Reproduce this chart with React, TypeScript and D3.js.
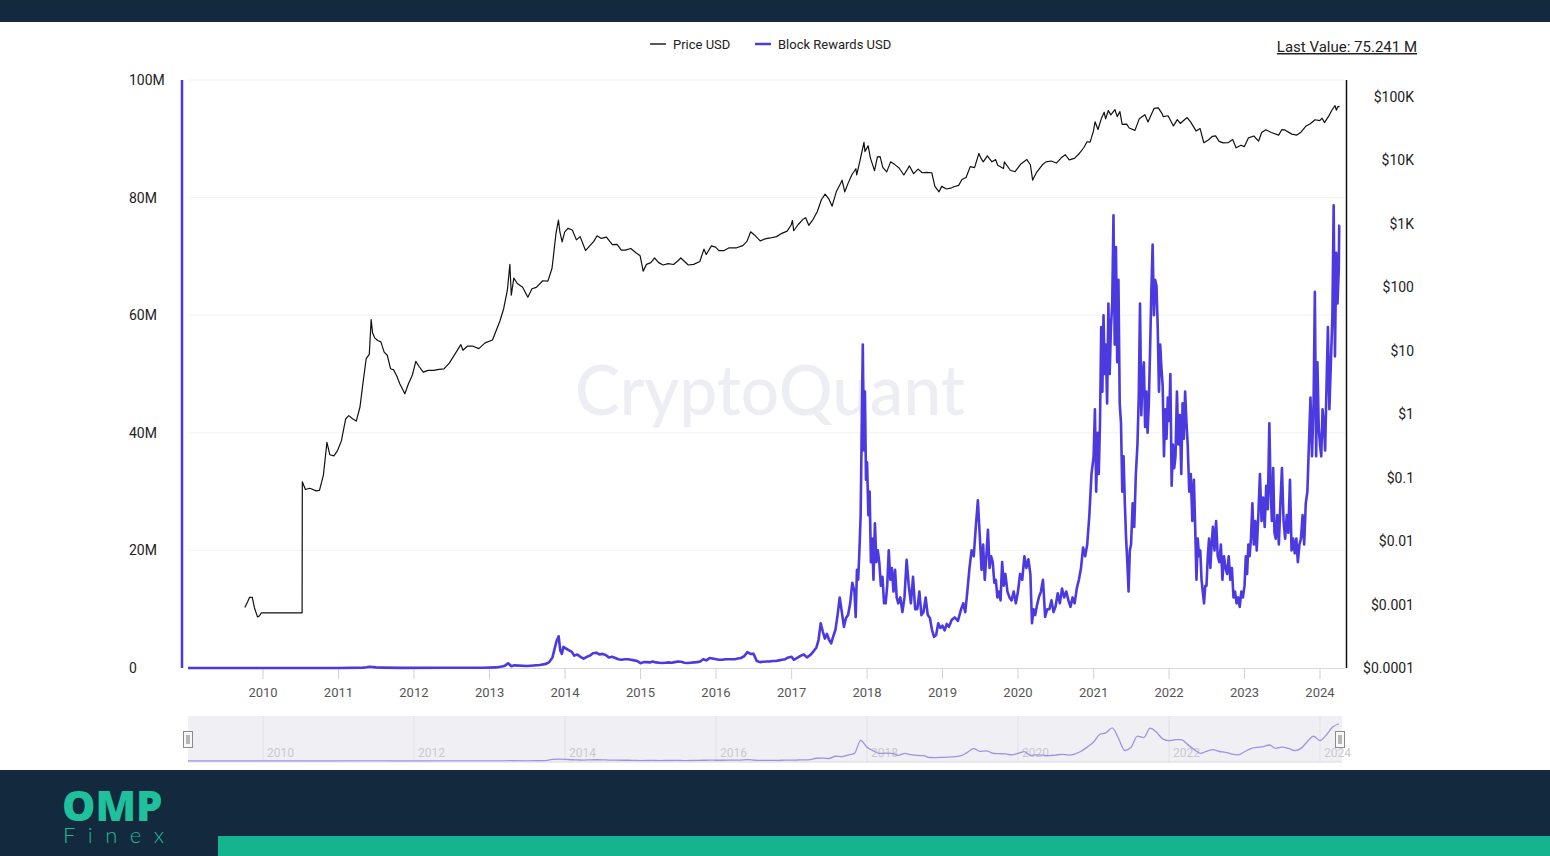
import * as d3 from "d3";

// Price USD (log scale, right axis)
const priceSeries: [string, number][] = [
  ["2009-10-05", 0.0009], ["2009-10-18", 0.0011], ["2009-10-28", 0.0013], ["2009-11-10", 0.0013],
  ["2009-11-20", 0.0009], ["2009-12-05", 0.00064], ["2009-12-14", 0.00066], ["2009-12-24", 0.00074],
  ["2010-07-09", 0.00074], ["2010-07-10", 0.086], ["2010-07-25", 0.065], ["2010-08-15", 0.068],
  ["2010-09-15", 0.062], ["2010-10-01", 0.063], ["2010-10-20", 0.11], ["2010-11-06", 0.36],
  ["2010-11-20", 0.23], ["2010-12-10", 0.22], ["2010-12-28", 0.27], ["2011-01-15", 0.38],
  ["2011-02-05", 0.85], ["2011-02-20", 0.95], ["2011-03-10", 0.85], ["2011-03-28", 0.78],
  ["2011-04-15", 1.3], ["2011-04-30", 3.2], ["2011-05-15", 7.5], ["2011-05-30", 8.8],
  ["2011-06-08", 31], ["2011-06-15", 19], ["2011-06-25", 16], ["2011-07-10", 14.5],
  ["2011-07-25", 13.8], ["2011-08-10", 9.5], ["2011-08-25", 8.5], ["2011-09-10", 5.2],
  ["2011-09-25", 5.0], ["2011-10-10", 4.0], ["2011-10-25", 3.0], ["2011-11-18", 2.1],
  ["2011-12-05", 3.0], ["2011-12-25", 4.2], ["2012-01-10", 6.8], ["2012-01-25", 5.7],
  ["2012-02-15", 4.6], ["2012-03-10", 4.9], ["2012-04-05", 4.9], ["2012-05-01", 5.1],
  ["2012-05-25", 5.2], ["2012-06-20", 6.4], ["2012-07-15", 8.6], ["2012-08-15", 12.5],
  ["2012-08-25", 10.2], ["2012-09-15", 11.8], ["2012-10-10", 11.9], ["2012-11-10", 10.8],
  ["2012-12-10", 13.3], ["2013-01-15", 14.8], ["2013-02-01", 20.5], ["2013-02-20", 29.5],
  ["2013-03-10", 46], ["2013-03-28", 90], ["2013-04-09", 230], ["2013-04-16", 75],
  ["2013-04-28", 140], ["2013-05-15", 115], ["2013-06-10", 100], ["2013-07-05", 70],
  ["2013-07-25", 95], ["2013-08-15", 100], ["2013-09-15", 127], ["2013-10-10", 125],
  ["2013-10-30", 200], ["2013-11-18", 700], ["2013-11-30", 1150], ["2013-12-07", 750],
  ["2013-12-18", 520], ["2013-12-30", 740], ["2014-01-15", 850], ["2014-02-05", 800],
  ["2014-02-25", 560], ["2014-03-15", 630], ["2014-04-10", 380], ["2014-04-30", 450],
  ["2014-05-20", 530], ["2014-06-05", 650], ["2014-06-25", 590], ["2014-07-20", 620],
  ["2014-08-18", 470], ["2014-09-10", 475], ["2014-09-30", 385], ["2014-10-20", 385],
  ["2014-11-15", 410], ["2014-12-10", 350], ["2014-12-30", 315], ["2015-01-14", 180],
  ["2015-01-30", 230], ["2015-02-20", 245], ["2015-03-10", 290], ["2015-03-30", 245],
  ["2015-04-20", 225], ["2015-05-15", 237], ["2015-06-10", 229], ["2015-07-05", 270],
  ["2015-07-15", 290], ["2015-08-20", 225], ["2015-09-15", 230], ["2015-10-15", 255],
  ["2015-11-04", 400], ["2015-11-15", 330], ["2015-12-10", 450], ["2015-12-30", 430],
  ["2016-01-15", 380], ["2016-02-10", 380], ["2016-03-05", 420], ["2016-04-10", 420],
  ["2016-05-10", 455], ["2016-05-30", 530], ["2016-06-17", 750], ["2016-07-05", 670],
  ["2016-08-02", 540], ["2016-08-25", 580], ["2016-09-20", 600], ["2016-10-20", 630],
  ["2016-11-15", 710], ["2016-12-10", 770], ["2016-12-30", 960], ["2017-01-05", 1130],
  ["2017-01-11", 780], ["2017-02-01", 970], ["2017-02-25", 1180], ["2017-03-10", 1250],
  ["2017-03-25", 950], ["2017-04-15", 1180], ["2017-05-05", 1550], ["2017-05-25", 2400],
  ["2017-06-12", 2950], ["2017-07-01", 2450], ["2017-07-16", 1900], ["2017-08-05", 3200],
  ["2017-08-30", 4600], ["2017-09-02", 4900], ["2017-09-15", 3200], ["2017-10-01", 4350],
  ["2017-10-20", 6000], ["2017-11-08", 7400], ["2017-11-12", 5900], ["2017-11-28", 10000],
  ["2017-12-17", 19300], ["2017-12-22", 13800], ["2018-01-06", 17100], ["2018-01-17", 11000],
  ["2018-02-06", 6900], ["2018-02-20", 11400], ["2018-03-05", 11500], ["2018-03-18", 7800],
  ["2018-04-06", 6600], ["2018-04-25", 9500], ["2018-05-15", 8600], ["2018-06-05", 7600],
  ["2018-06-28", 5900], ["2018-07-25", 8200], ["2018-08-14", 6200], ["2018-09-05", 7300],
  ["2018-09-25", 6400], ["2018-10-15", 6500], ["2018-11-10", 6400], ["2018-11-25", 3900],
  ["2018-12-15", 3200], ["2018-12-28", 3900], ["2019-01-20", 3550], ["2019-02-10", 3650],
  ["2019-02-25", 3850], ["2019-03-20", 4050], ["2019-04-05", 5000], ["2019-04-25", 5400],
  ["2019-05-15", 8000], ["2019-06-05", 7700], ["2019-06-26", 12900], ["2019-07-05", 11000],
  ["2019-07-17", 9500], ["2019-08-06", 11800], ["2019-08-28", 9500], ["2019-09-15", 10300],
  ["2019-09-25", 8400], ["2019-10-23", 7450], ["2019-10-27", 9500], ["2019-11-25", 7000],
  ["2019-12-18", 6640], ["2020-01-15", 8800], ["2020-02-13", 10350], ["2020-03-01", 8550],
  ["2020-03-12", 4900], ["2020-03-30", 6400], ["2020-04-30", 8650], ["2020-05-15", 9500],
  ["2020-06-10", 9800], ["2020-07-05", 9100], ["2020-07-28", 11000], ["2020-08-17", 12300],
  ["2020-09-05", 10200], ["2020-09-30", 10800], ["2020-10-25", 13000], ["2020-11-15", 16000],
  ["2020-11-30", 19700], ["2020-12-15", 19400], ["2020-12-31", 29000], ["2021-01-08", 40700],
  ["2021-01-22", 30800], ["2021-02-08", 46400], ["2021-02-21", 57500], ["2021-02-28", 45200],
  ["2021-03-13", 61200], ["2021-03-25", 52300], ["2021-04-14", 63500], ["2021-04-25", 49000],
  ["2021-05-08", 58800], ["2021-05-19", 37000], ["2021-06-10", 37300], ["2021-06-22", 32500],
  ["2021-07-20", 29800], ["2021-08-10", 45600], ["2021-09-06", 52700], ["2021-09-21", 40500],
  ["2021-10-20", 66000], ["2021-11-10", 67500], ["2021-11-28", 54700], ["2021-12-04", 49000],
  ["2021-12-27", 50600], ["2022-01-22", 35000], ["2022-02-10", 44000], ["2022-02-24", 38300],
  ["2022-03-29", 47400], ["2022-04-15", 40500], ["2022-05-12", 29000], ["2022-05-31", 31800],
  ["2022-06-18", 19000], ["2022-07-10", 21000], ["2022-07-30", 24000], ["2022-08-14", 24400],
  ["2022-08-31", 20000], ["2022-09-20", 18900], ["2022-10-15", 19100], ["2022-11-05", 21300],
  ["2022-11-21", 15800], ["2022-12-15", 17400], ["2022-12-31", 16500], ["2023-01-20", 22700],
  ["2023-02-15", 24300], ["2023-03-10", 20200], ["2023-03-25", 27500], ["2023-04-14", 30400],
  ["2023-05-10", 27600], ["2023-06-15", 25100], ["2023-06-30", 30500], ["2023-07-15", 30300],
  ["2023-08-18", 26000], ["2023-09-11", 25100], ["2023-10-01", 27900], ["2023-10-24", 34500],
  ["2023-11-15", 37800], ["2023-12-08", 43800], ["2023-12-31", 42300], ["2024-01-11", 46300],
  ["2024-01-23", 39500], ["2024-02-15", 51900], ["2024-02-28", 62400], ["2024-03-14", 73100],
  ["2024-03-20", 62000], ["2024-03-28", 71000], ["2024-04-05", 70500],
];

// Block Rewards USD (millions, left axis): readings spread across each month
const rewardSeries: [string, number[]][] = [
  ["2009-01", [0, 0]], ["2010-07", [0.001]], ["2011-01", [0.005]], ["2011-05", [0.06, 0.12]],
  ["2011-06", [0.22, 0.1]], ["2011-08", [0.07]], ["2011-11", [0.02]], ["2012-06", [0.05]],
  ["2012-12", [0.05]], ["2013-02", [0.1]], ["2013-03", [0.25, 0.4]], ["2013-04", [0.8, 0.3]],
  ["2013-05", [0.45]], ["2013-07", [0.35]], ["2013-09", [0.5]], ["2013-10", [0.7, 1.0]],
  ["2013-11", [1.8, 3.2, 4.6]], ["2013-12", [5.4, 3.0, 2.4, 3.6]],
  ["2014-01", [3.4, 3.1]], ["2014-02", [2.8, 2.1]], ["2014-03", [2.3, 1.9]], ["2014-04", [1.6, 1.9]],
  ["2014-05", [2.1, 2.5]], ["2014-06", [2.6, 2.3]], ["2014-07", [2.4, 2.2]], ["2014-08", [1.8, 1.9]],
  ["2014-09", [1.7, 1.5]], ["2014-10", [1.4, 1.5]], ["2014-11", [1.5, 1.4]], ["2014-12", [1.3, 1.2]],
  ["2015-01", [0.8, 1.0]], ["2015-02", [1.0, 0.95]], ["2015-03", [1.1, 0.95]], ["2015-04", [0.9, 0.85]],
  ["2015-05", [0.9, 0.95]], ["2015-06", [0.9, 1.0]], ["2015-07", [1.1, 1.05]], ["2015-08", [0.9, 0.85]],
  ["2015-09", [0.9, 0.95]], ["2015-10", [1.0, 1.1]], ["2015-11", [1.5, 1.3]], ["2015-12", [1.7, 1.6]],
  ["2016-01", [1.5, 1.4]], ["2016-02", [1.4, 1.5]], ["2016-03", [1.5, 1.5]], ["2016-04", [1.5, 1.6]],
  ["2016-05", [1.7, 2.0]], ["2016-06", [2.7, 2.4]], ["2016-07", [2.4, 1.2]], ["2016-08", [1.0, 1.05]],
  ["2016-09", [1.1, 1.1]], ["2016-10", [1.2, 1.2]], ["2016-11", [1.3, 1.4]], ["2016-12", [1.5, 1.8]],
  ["2017-01", [1.9, 1.4, 1.6]], ["2017-02", [1.8, 2.1]], ["2017-03", [2.3, 1.8]], ["2017-04", [2.2, 2.8]],
  ["2017-05", [3.5, 4.8, 7.6]], ["2017-06", [6.2, 5.0, 5.8]], ["2017-07", [4.8, 4.2, 5.4]],
  ["2017-08", [6.5, 9.0, 12.0]], ["2017-09", [9.5, 7.0, 8.5]], ["2017-10", [9.0, 11.0, 14.5]],
  ["2017-11", [13.0, 8.7, 16.7, 15.0, 20.0]], ["2017-12", [26, 41, 55, 37, 47, 32]],
  ["2018-01", [35, 26, 30, 18, 22]], ["2018-02", [15, 24.6, 18, 20]], ["2018-03", [18, 14, 15.5, 11]],
  ["2018-04", [11, 14, 20, 15]], ["2018-05", [17, 13, 16.7, 12]], ["2018-06", [11, 12, 9.5]],
  ["2018-07", [12, 18.4, 14]], ["2018-08", [11, 15.5, 10]], ["2018-09", [10, 13, 9]],
  ["2018-10", [9.5, 12, 9]], ["2018-11", [8.5, 6.5, 5.3]], ["2018-12", [5.6, 7.6, 6.8]],
  ["2019-01", [7.2, 6.4, 7.5]], ["2019-02", [7.0, 8.2]], ["2019-03", [8.6, 8.0]],
  ["2019-04", [10.0, 11.0, 9.5]], ["2019-05", [13, 17, 20]], ["2019-06", [19, 24, 28.5]],
  ["2019-07", [22, 16.7, 21, 15]], ["2019-08", [19, 23.5, 17, 19]], ["2019-09", [18, 14.5, 15, 12]],
  ["2019-10", [13, 11.5, 18, 14]], ["2019-11", [16, 13, 12]], ["2019-12", [11.5, 13, 11]],
  ["2020-01", [13, 16, 15]], ["2020-02", [19, 17, 18.5]], ["2020-03", [16, 7.6, 10, 9]],
  ["2020-04", [10.5, 12, 13]], ["2020-05", [15, 8.7, 10]], ["2020-06", [10, 11.5, 9.5]],
  ["2020-07", [10.5, 12.7, 11]], ["2020-08", [13.5, 12, 13]], ["2020-09", [11.5, 10.4, 12]],
  ["2020-10", [11, 13.5, 15]], ["2020-11", [17, 20.5, 19]], ["2020-12", [21, 26, 33]],
  ["2021-01", [36, 44, 30, 40, 33]], ["2021-02", [42, 58, 47, 60, 50]], ["2021-03", [55, 45, 62, 50, 58]],
  ["2021-04", [62, 77, 55, 71.6, 52]], ["2021-05", [66, 45, 41.6, 30, 36]], ["2021-06", [28, 22, 18, 13, 20]],
  ["2021-07", [21, 28, 24, 33]], ["2021-08", [38, 46, 62, 43, 50]], ["2021-09", [52, 41, 47, 40, 45]],
  ["2021-10", [54, 64, 72, 60, 66]], ["2021-11", [65, 58, 47, 55, 51]], ["2021-12", [48, 36, 44, 39, 46]],
  ["2022-01", [42, 50, 31, 38, 34]], ["2022-02", [36, 47, 38, 43]], ["2022-03", [33, 45, 39, 47, 42]],
  ["2022-04", [38, 30, 33, 25]], ["2022-05", [32, 24, 15, 22, 19]], ["2022-06", [20, 15, 13, 11, 14]],
  ["2022-07", [14, 19, 22, 17, 21]], ["2022-08", [24, 20, 25, 19]], ["2022-09", [18, 21, 15, 19]],
  ["2022-10", [17, 16, 19, 15]], ["2022-11", [17, 12, 13, 11]], ["2022-12", [12, 10.4, 13, 12]],
  ["2023-01", [14, 19, 16, 21, 19]], ["2023-02", [22, 28, 21, 25]], ["2023-03", [20, 26, 33, 25]],
  ["2023-04", [29, 24, 31, 27]], ["2023-05", [41.6, 30, 25, 34, 23]], ["2023-06", [22, 26, 21, 28]],
  ["2023-07", [34, 25, 22, 26]], ["2023-08", [23, 32, 20, 22]], ["2023-09", [19.5, 22, 18, 21]],
  ["2023-10", [22, 26, 21, 28]], ["2023-11", [30, 38, 46, 36]], ["2023-12", [45, 64, 36, 52, 41]],
  ["2024-01", [38, 36, 44, 41.6, 37]], ["2024-02", [47, 58, 44, 52]], ["2024-03", [60, 78.7, 53, 70.6, 62]],
  ["2024-04", [68, 75.241]],
];
const rewardEnd = "2024-04-05";

const leftTicks = [0, 20, 40, 60, 80, 100];
const rightTicks = [1e-4, 1e-3, 1e-2, 1e-1, 1, 10, 100, 1e3, 1e4, 1e5];
const rightLabels = ["$0.0001", "$0.001", "$0.01", "$0.1", "$1", "$10", "$100", "$1K", "$10K", "$100K"];
const yearTicks = [2010, 2011, 2012, 2013, 2014, 2015, 2016, 2017, 2018, 2019, 2020, 2021, 2022, 2023, 2024];
const navYears = [2010, 2012, 2014, 2016, 2018, 2020, 2022, 2024];

const PURPLE = "#4b3ae0";
const NAVY = "#12293e";
const FONT = "Roboto, 'Open Sans', sans-serif";

const parse = d3.timeParse("%Y-%m-%d");
const parseMonth = d3.timeParse("%Y-%m");

export default function App() {
  const W = 1550;
  const H = 856;
  const plot = { left: 188, right: 1345, top: 80, bottom: 668 };

  const x = d3
    .scaleTime()
    .domain([new Date(2009, 0, 3), new Date(2024, 4, 1)])
    .range([plot.left, plot.right]);
  const yLeft = d3.scaleLinear().domain([0, 100]).range([plot.bottom, plot.top]);
  const yRight = d3.scaleLog().domain([1e-4, 1e5]).range([plot.bottom, 97]);
  // extend the log scale up to the top of the plot
  const topPrice = yRight.invert(plot.top);
  yRight.domain([1e-4, topPrice]).range([plot.bottom, plot.top]);

  const prices = priceSeries.map(([d, v]) => ({ date: parse(d)!, value: v }));

  // each month's readings are laid out evenly from its start to the next entry
  const rewards: { date: Date; value: number }[] = [];
  const navPts: { date: Date; value: number }[] = [];
  rewardSeries.forEach(([m, vals], i) => {
    const start = parseMonth(m)!;
    const end = i < rewardSeries.length - 1 ? parseMonth(rewardSeries[i + 1][0])! : parse(rewardEnd)!;
    const span = end.getTime() - start.getTime();
    vals.forEach((v, j) => {
      rewards.push({ date: new Date(start.getTime() + (j / vals.length) * span), value: v });
    });
    navPts.push({ date: start, value: d3.mean(vals)! });
  });
  rewards.push({ date: parse(rewardEnd)!, value: rewardSeries[rewardSeries.length - 1][1].slice(-1)[0] });

  const priceLine = d3
    .line<{ date: Date; value: number }>()
    .x((d) => x(d.date))
    .y((d) => yRight(d.value));
  const rewardLine = d3
    .line<{ date: Date; value: number }>()
    .x((d) => x(d.date))
    .y((d) => yLeft(d.value));

  const nav = { top: 716, bottom: 762, left: 188, right: 1342 };
  const navY = d3
    .scaleLinear()
    .domain([0, d3.max(navPts, (d) => d.value)! * 1.02])
    .range([nav.bottom - 1, 723]);
  const navLine = d3
    .line<{ date: Date; value: number }>()
    .x((d) => x(d.date))
    .y((d) => navY(d.value))
    .curve(d3.curveMonotoneX);

  const lastValue = rewardSeries[rewardSeries.length - 1][1].slice(-1)[0];

  return (
    <svg
      width={W}
      height={H}
      viewBox={`0 0 ${W} ${H}`}
      style={{ position: "absolute", left: 0, top: 0, background: "#fff", fontFamily: FONT }}
    >
      <defs>
        <clipPath id="plot-clip">
          <rect x={plot.left} y={plot.top - 2} width={plot.right - plot.left} height={plot.bottom - plot.top + 4} />
        </clipPath>
        <clipPath id="nav-clip">
          <rect x={nav.left} y={nav.top} width={nav.right - nav.left} height={nav.bottom - nav.top} />
        </clipPath>
      </defs>

      {/* top band */}
      <rect x={0} y={0} width={W} height={22} fill={NAVY} />

      {/* legend */}
      <g fontSize={13} fill="#222">
        <line x1={650} x2={666} y1={44} y2={44} stroke="#222" strokeWidth={1.5} />
        <text x={673} y={48.5}>Price USD</text>
        <line x1={755} x2={771} y1={44} y2={44} stroke={PURPLE} strokeWidth={2.5} />
        <text x={778} y={48.5}>Block Rewards USD</text>
      </g>
      <text x={1417} y={52} fontSize={15} fill="#222" textAnchor="end" style={{ textDecoration: "underline" }}>
        {`Last Value: ${lastValue.toFixed(3)} M`}
      </text>

      {/* gridlines */}
      {leftTicks.slice(1).map((t) => (
        <line key={t} x1={plot.left} x2={plot.right} y1={yLeft(t)} y2={yLeft(t)} stroke="#f2f2f4" strokeWidth={1} />
      ))}

      {/* watermark */}
      <text
        x={770}
        y={415}
        textAnchor="middle"
        fontSize={70}
        fontWeight={500}
        fill="#ededf4"
        textLength={390}
        lengthAdjust="spacingAndGlyphs"
        style={{ fontFamily: "Lato, 'Open Sans', sans-serif" }}
      >
        CryptoQuant
      </text>

      {/* left axis */}
      <line x1={182} x2={182} y1={plot.top} y2={plot.bottom} stroke={PURPLE} strokeWidth={2.5} />
      {leftTicks.map((t) => (
        <text key={t} x={129} y={yLeft(t) + 5} fontSize={14} fill="#222">
          {t === 0 ? "0" : `${t}M`}
        </text>
      ))}

      {/* right axis */}
      <line x1={1346.5} x2={1346.5} y1={plot.top} y2={plot.bottom} stroke="#111" strokeWidth={1.5} />
      {rightTicks.map((t, i) => (
        <text key={t} x={1414} y={yRight(t) + 5} fontSize={14} fill="#222" textAnchor="end">
          {rightLabels[i]}
        </text>
      ))}

      {/* x axis */}
      <line x1={plot.left} x2={plot.right} y1={plot.bottom + 0.5} y2={plot.bottom + 0.5} stroke="#d8d8e0" />
      {yearTicks.map((yr) => {
        const xx = x(new Date(yr, 0, 1));
        return (
          <g key={yr}>
            <line x1={xx} x2={xx} y1={plot.bottom} y2={plot.bottom + 11} stroke="#d0d0d6" />
            <text x={xx} y={697} fontSize={13} fill="#555" textAnchor="middle">
              {yr}
            </text>
          </g>
        );
      })}

      {/* series */}
      <g clipPath="url(#plot-clip)">
        <path d={rewardLine(rewards)!} fill="none" stroke={PURPLE} strokeWidth={2.6} strokeLinejoin="round" />
        <path d={priceLine(prices)!} fill="none" stroke="#111" strokeWidth={1.2} strokeLinejoin="round" />
      </g>

      {/* navigator */}
      <rect x={nav.left} y={nav.top} width={nav.right - nav.left} height={nav.bottom - nav.top} fill="#f0f0f4" />
      {navYears.map((yr) => {
        const xx = x(new Date(yr, 0, 1));
        return (
          <g key={yr}>
            <line x1={xx} x2={xx} y1={nav.top} y2={nav.bottom} stroke="#e0e0e6" />
            <text x={xx + 4} y={757} fontSize={12} fill="#c9c9d2">
              {yr}
            </text>
          </g>
        );
      })}
      <g clipPath="url(#nav-clip)">
        <path d={navLine(navPts)!} fill="none" stroke="#9d93e3" strokeWidth={1.3} />
      </g>
      <line x1={nav.left} x2={nav.right} y1={nav.bottom} y2={nav.bottom} stroke="#d8d8e2" />
      {[183, 1335].map((hx) => (
        <g key={hx}>
          <rect x={hx + 0.5} y={731.5} width={9} height={16} fill="#f7f7f7" stroke="#8a8a8a" />
          <line x1={hx + 4} x2={hx + 4} y1={735} y2={744} stroke="#777" />
          <line x1={hx + 6} x2={hx + 6} y1={735} y2={744} stroke="#777" />
        </g>
      ))}

      {/* bottom band with logo */}
      <rect x={0} y={770} width={W} height={H - 770} fill={NAVY} />
      <rect x={218} y={836} width={W - 218} height={20} fill="#13b48e" />
      <text>
        <tspan
          x={62}
          y={821}
          fontSize={42}
          fontWeight={800}
          fill="#1fc19d"
          style={{ fontFamily: "'Open Sans', Lato, sans-serif" }}
        >
          OMP
        </tspan>
        <tspan
          x={63}
          y={843}
          fontSize={22}
          fontWeight={300}
          fill="#1fb996"
          letterSpacing={12.5}
          style={{ fontFamily: "Lato, 'Open Sans', sans-serif" }}
        >
          Finex
        </tspan>
      </text>
    </svg>
  );
}
